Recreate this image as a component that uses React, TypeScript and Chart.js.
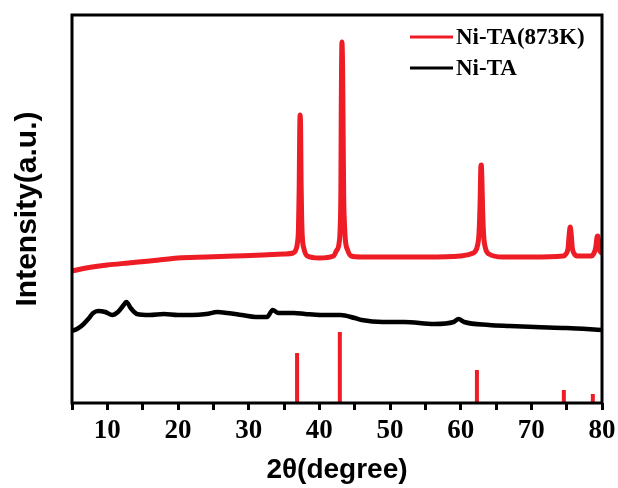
import React, { useEffect, useRef } from 'react';
import { Chart, registerables } from 'chart.js';

Chart.register(...registerables);

// 2θ (degree) and intensity (a.u.)
const redAngles = [5, 7, 10, 13, 16, 20, 24, 28, 32, 35, 36.3, 36.6, 36.9, 37.05, 37.15, 37.22, 37.28, 37.35, 37.42, 37.5, 37.6, 37.8, 38.3, 40, 42, 42.4, 42.8, 42.95, 43.05, 43.1, 43.2, 43.3, 43.38, 43.45, 43.55, 43.7, 44.0, 44.5, 46, 50, 55, 60, 61.8, 62.0, 62.4, 62.6, 62.75, 62.85, 62.92, 63.0, 63.1, 63.25, 63.5, 64, 66, 70, 74.5, 74.9, 75.2, 75.35, 75.5, 75.65, 75.8, 76.1, 76.5, 78.5, 78.8, 79.1, 79.3, 79.4, 79.55, 79.7, 80];
const redIntensity = [132, 135, 138, 140, 142, 145, 146, 147, 148, 149, 150, 152, 160, 175, 215, 270, 288, 275, 220, 185, 165, 155, 147, 145, 147, 152, 160, 175, 215, 290, 361, 330, 260, 205, 180, 162, 153, 147, 146, 146, 146, 147, 150, 151, 158, 170, 200, 235, 238, 225, 195, 168, 155, 149, 146, 146, 147, 149, 155, 168, 176, 168, 155, 149, 147, 147, 149, 155, 166, 167, 160, 152, 150];

const blackAngles = [5, 5.7, 6.5, 7.3, 8.0, 8.7, 9.7, 10.7, 11.5, 12.2, 12.7, 13.3, 14.2, 16, 18, 20, 22, 24, 25.6, 27, 29, 31, 32.6, 33.4, 34.2, 36.4, 38, 40.2, 43, 45, 46, 49, 52, 56.3, 59, 59.7, 60.5, 64, 67, 70.5, 75, 80];
const blackIntensity = [72, 74, 78, 84, 90, 92, 91, 88, 91, 97, 101, 95, 89, 88, 89, 88, 88, 89, 91, 90, 88, 86, 86, 93, 90, 90, 89, 88, 88, 85, 83, 81, 81, 79, 81, 84, 81, 78, 77, 76, 75, 73];

const stickAngles = [36.85, 42.9, 62.3, 74.6, 78.7];
const stickHeights = [50, 71, 33, 13, 9];

const seriesLabels = ['Ni-TA(873K)', 'Ni-TA'];
const seriesColors = ['#ee1c25', '#000000'];

const xMin = 5;
const xMax = 80;
const xStep = 5;
const yMax = 388;

const framePlugin = {
  id: 'frameAndLegend',
  afterDraw(chart: any) {
    const { ctx, chartArea } = chart;
    ctx.save();
    ctx.strokeStyle = '#000';
    ctx.lineWidth = 3;
    ctx.strokeRect(chartArea.left, chartArea.top, chartArea.right - chartArea.left, chartArea.bottom - chartArea.top);
    // legend
    const x0 = chartArea.left + 338;
    const rows = [chartArea.top + 22, chartArea.top + 53];
    ctx.font = 'bold 23px "Liberation Serif", "Times New Roman", serif';
    ctx.textBaseline = 'middle';
    ctx.textAlign = 'left';
    for (let i = 0; i < 2; i++) {
      const ds = chart.data.datasets[i];
      ctx.strokeStyle = ds.borderColor;
      ctx.lineWidth = 3;
      ctx.beginPath();
      ctx.moveTo(x0, rows[i]);
      ctx.lineTo(x0 + 43, rows[i]);
      ctx.stroke();
      ctx.fillStyle = '#000';
      ctx.fillText(ds.label, x0 + 46, rows[i] + 1);
    }
    ctx.restore();
  },
};

export default function App() {
  const ref = useRef<HTMLCanvasElement>(null);
  useEffect(() => {
    if (!ref.current) return;
    const redData = redAngles.map((x, i) => ({ x, y: redIntensity[i] }));
    const blackData = blackAngles.map((x, i) => ({ x, y: blackIntensity[i] }));
    const stickData: any[] = [];
    stickAngles.forEach((x, i) => {
      stickData.push({ x, y: 0 });
      stickData.push({ x, y: stickHeights[i] });
      stickData.push({ x: x + 0.01, y: null });
    });
    const chart = new Chart(ref.current, {
      type: 'line',
      data: {
        datasets: [
          { label: seriesLabels[0], data: redData, borderColor: seriesColors[0], borderWidth: 5, pointRadius: 0, cubicInterpolationMode: 'monotone', fill: false },
          { label: seriesLabels[1], data: blackData, borderColor: seriesColors[1], borderWidth: 4.5, pointRadius: 0, cubicInterpolationMode: 'monotone', fill: false },
          { label: 'ref', data: stickData, borderColor: seriesColors[0], borderWidth: 4, pointRadius: 0, spanGaps: false, borderCapStyle: 'butt' },
        ],
      },
      options: {
        animation: false,
        responsive: false,
        layout: { padding: { left: 0, top: 15, right: 16, bottom: 0 } },
        plugins: { legend: { display: false }, tooltip: { enabled: false } },
        scales: {
          x: {
            type: 'linear',
            min: xMin,
            max: xMax,
            afterFit(scale: any) { scale.height = 85; scale.paddingLeft = 0; scale.paddingRight = 0; },
            ticks: {
              stepSize: xStep,
              autoSkip: false,
              maxRotation: 0,
              padding: 5,
              color: '#000',
              font: { family: '"Liberation Serif", "Times New Roman", serif', size: 27, weight: 'bold' },
              callback: (v: any) => (Number(v) % 10 === 0 ? String(v) : ''),
            },
            grid: { display: true, drawOnChartArea: false, drawTicks: true, tickLength: 7, tickWidth: 3, tickColor: '#000' },
            border: { display: false },
            title: {
              display: true,
              text: '2θ(degree)',
              color: '#000',
              padding: { top: 0, bottom: 1 },
              font: { family: '"Liberation Sans", Arial, sans-serif', size: 28, weight: 'bold' },
            },
          },
          y: {
            min: 0,
            max: yMax,
            afterFit(scale: any) { scale.width = 72; },
            ticks: { display: false },
            grid: { display: false },
            border: { display: false },
            title: {
              display: true,
              text: 'Intensity(a.u.)',
              color: '#000',
              padding: { top: 10, bottom: 0 },
              font: { family: '"Liberation Sans", Arial, sans-serif', size: 30, weight: 'bold' },
            },
          },
        },
      },
      plugins: [framePlugin],
    } as any);
    return () => chart.destroy();
  }, []);
  return (
    <div style={{ position: 'absolute', left: 0, top: 0, width: 618, height: 488, background: '#fff' }}>
      <canvas ref={ref} width={618} height={488} style={{ display: 'block' }} />
    </div>
  );
}
